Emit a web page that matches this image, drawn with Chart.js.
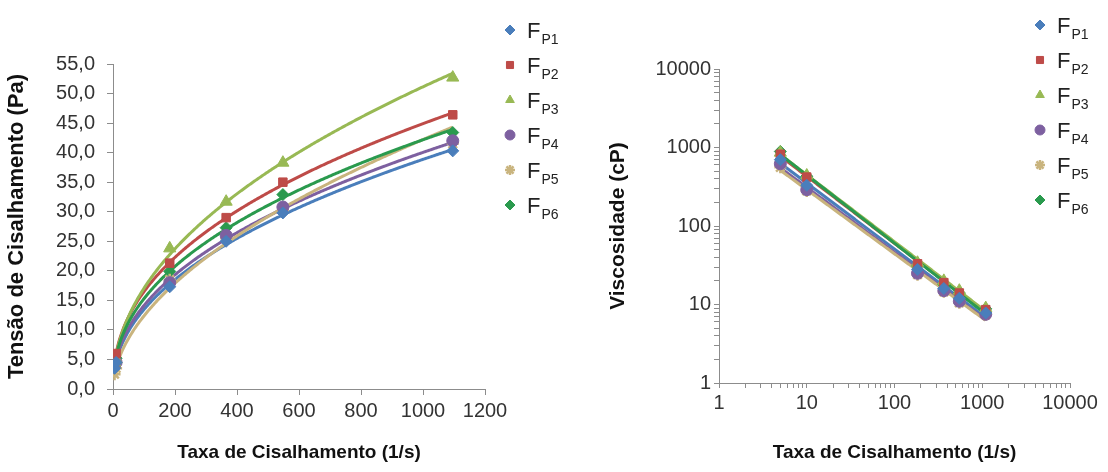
<!DOCTYPE html>
<html lang="pt">
<head>
<meta charset="utf-8">
<script src="https://cdn.jsdelivr.net/npm/chart.js@4.4.0/dist/chart.umd.min.js"></script>
<style>
  body { margin: 0; background: #fff; }
  #tensao { position: absolute; left: 0; top: 0; }
  #viscosidade { position: absolute; left: 590px; top: 0; }
</style>
</head>
<body>
<canvas id="tensao" width="590" height="472"></canvas>
<canvas id="viscosidade" width="518" height="472"></canvas>
<script>
// taxa de cisalhamento (1/s)
const shearRate = [5, 10, 183, 365, 548, 1096];
const seriesNames = ["P1", "P2", "P3", "P4", "P5", "P6"];

// tensão de cisalhamento (Pa)
const tensaoP1 = [3.5, 4.5, 17.3, 25.0, 29.8, 40.3];
const tensaoP2 = [4.5, 6.0, 21.3, 29.0, 35.0, 46.4];
const tensaoP3 = [4.5, 5.0, 23.8, 31.7, 38.3, 52.7];
const tensaoP4 = [4.0, 4.5, 18.0, 26.0, 30.8, 42.0];
const tensaoP5 = [2.5, 3.5, 18.5, 25.5, 30.3, 41.5];
const tensaoP6 = [4.3, 5.2, 19.9, 27.3, 32.9, 43.4];

// viscosidade (cP)
const viscP1 = [700, 330, 28, 16, 12, 7.8];
const viscP2 = [820, 420, 33, 19, 14, 8.6];
const viscP3 = [860, 440, 34, 20, 15, 9.0];
const viscP4 = [620, 290, 25, 15, 11, 7.5];
const viscP5 = [560, 280, 24, 14.5, 10.5, 7.4];
const viscP6 = [890, 430, 31, 18, 14, 8.8];

const tensaoTicks = [0, 5, 10, 15, 20, 25, 30, 35, 40, 45, 50, 55];
const rateTicks = [0, 200, 400, 600, 800, 1000, 1200];
const decades = [1, 10, 100, 1000, 10000];

const colors = ["#4A7EBB", "#BE4B48", "#98B954", "#7D60A0", "#C9B47E", "#2A9A4E"];
const markers = ["rectRot", "rect", "triangle", "circle", "star", "rectRot"];

const axisColor = "#8c8c8c";
const fontFamily = "'Liberation Sans', Arial, sans-serif";
const tickFont = { family: fontFamily, size: 20 };
const titleFont = (size) => ({ family: fontFamily, size, weight: "bold" });

function makeDatasets(values) {
  return values.map((vals, i) => ({
    label: seriesNames[i],
    data: shearRate.map((x, j) => ({ x, y: vals[j] })),
    showLine: false,
    borderColor: colors[i],
    backgroundColor: colors[i],
    pointStyle: markers[i],
    pointRadius: markers[i] === "triangle" ? 7 : 6,
    pointBorderWidth: markers[i] === "star" ? 2.5 : 1,
  }));
}

// linha de tendência de potência (y = a * x^b), ajustada por mínimos quadrados em log-log
function powerFit(points) {
  const n = points.length;
  let sx = 0, sy = 0, sxx = 0, sxy = 0;
  points.forEach((p) => {
    const lx = Math.log(p.x), ly = Math.log(p.y);
    sx += lx; sy += ly; sxx += lx * lx; sxy += lx * ly;
  });
  const b = (n * sxy - sx * sy) / (n * sxx - sx * sx);
  const a = Math.exp((sy - b * sx) / n);
  return { a, b };
}

const trendlines = {
  id: "trendlines",
  beforeDatasetsDraw(chart) {
    const ctx = chart.ctx;
    const xs = chart.scales.x, ys = chart.scales.y;
    ctx.save();
    ctx.beginPath();
    ctx.rect(chart.chartArea.left, chart.chartArea.top, chart.chartArea.width, chart.chartArea.height);
    ctx.clip();
    chart.data.datasets.forEach((ds) => {
      const { a, b } = powerFit(ds.data);
      const x0 = xs.getPixelForValue(Math.min(...ds.data.map((p) => p.x)));
      const x1 = xs.getPixelForValue(Math.max(...ds.data.map((p) => p.x)));
      ctx.beginPath();
      for (let px = x0; px <= x1 + 0.01; px += 1) {
        const v = xs.getValueForPixel(Math.min(px, x1));
        const py = ys.getPixelForValue(a * Math.pow(v, b));
        if (px === x0) ctx.moveTo(px, py); else ctx.lineTo(px, py);
      }
      ctx.strokeStyle = ds.borderColor;
      ctx.lineWidth = 3;
      ctx.lineJoin = "round";
      ctx.stroke();
    });
    ctx.restore();
  },
};

// legenda com subscrito (F_P1 ...)
function subscriptLegend(x0, y0, gap) {
  return {
    id: "subscriptLegend",
    afterDraw(chart) {
      const ctx = chart.ctx;
      chart.data.datasets.forEach((ds, i) => {
        const y = y0 + i * gap;
        ctx.save();
        ctx.fillStyle = ds.backgroundColor;
        ctx.strokeStyle = ds.borderColor;
        const bw = ds.pointStyle === "star" ? 2.5 : 1;
        ctx.lineWidth = bw;
        Chart.helpers.drawPoint(ctx, { pointStyle: ds.pointStyle, radius: 5, rotation: 0, borderWidth: bw }, x0, y);
        ctx.fillStyle = "#222";
        ctx.textAlign = "left";
        ctx.textBaseline = "alphabetic";
        ctx.font = "22px " + fontFamily;
        ctx.fillText("F", x0 + 17, y + 8);
        const w = ctx.measureText("F").width;
        ctx.font = "14px " + fontFamily;
        ctx.fillText(ds.label, x0 + 18 + w, y + 14);
        ctx.restore();
      });
    },
  };
}

const plainGrid = { drawOnChartArea: false, drawTicks: true, tickLength: 6, color: axisColor };

new Chart(document.getElementById("tensao"), {
  type: "scatter",
  data: { datasets: makeDatasets([tensaoP1, tensaoP2, tensaoP3, tensaoP4, tensaoP5, tensaoP6]) },
  options: {
    responsive: false,
    animation: false,
    layout: { padding: { top: 64, right: 105, left: 0, bottom: 0 } },
    plugins: { legend: { display: false }, tooltip: { enabled: false } },
    scales: {
      x: {
        type: "linear",
        min: 0,
        max: 1200,
        afterBuildTicks: (s) => { s.ticks = rateTicks.map((v) => ({ value: v })); },
        afterFit: (s) => { s.height = 83; },
        ticks: { color: "#333", font: tickFont, padding: 4, maxRotation: 0, callback: (v) => String(v) },
        grid: plainGrid,
        border: { color: axisColor },
        title: { display: true, text: "Taxa de Cisalhamento (1/s)", color: "#111", font: titleFont(19), padding: { top: 0, bottom: 8 } },
      },
      y: {
        min: 0,
        max: 55,
        afterBuildTicks: (s) => { s.ticks = tensaoTicks.map((v) => ({ value: v })); },
        afterFit: (s) => { s.width = 113; },
        ticks: { color: "#333", font: tickFont, padding: 12, callback: (v) => v.toFixed(1).replace(".", ",") },
        grid: plainGrid,
        border: { color: axisColor },
        title: { display: true, text: "Tensão de Cisalhamento (Pa)", color: "#111", font: titleFont(22), padding: { top: 4, bottom: 0 } },
      },
    },
  },
  plugins: [trendlines, subscriptLegend(510, 30, 35)],
});

const logTicks = [];
decades.slice(0, -1).forEach((d) => { for (let m = 1; m < 10; m++) logTicks.push(m * d); });
logTicks.push(10000);

const logAxis = (extra) => Object.assign({
  type: "logarithmic",
  min: 1,
  max: 10000,
  afterBuildTicks: (s) => { s.ticks = logTicks.map((v) => ({ value: v, major: decades.includes(v) })); },
  ticks: { color: "#333", font: tickFont, autoSkip: false, maxRotation: 0, callback: (v) => (decades.includes(v) ? String(v) : "") },
  grid: { drawOnChartArea: false, drawTicks: true, tickLength: 5, color: axisColor },
  border: { color: axisColor },
}, extra);

new Chart(document.getElementById("viscosidade"), {
  type: "scatter",
  data: { datasets: makeDatasets([viscP1, viscP2, viscP3, viscP4, viscP5, viscP6]) },
  options: {
    responsive: false,
    animation: false,
    layout: { padding: { top: 69, right: 38, left: 0, bottom: 0 } },
    plugins: { legend: { display: false }, tooltip: { enabled: false } },
    scales: {
      x: logAxis({
        afterFit: (s) => { s.height = 89; },
        title: { display: true, text: "Taxa de Cisalhamento (1/s)", color: "#111", font: titleFont(19), padding: { top: 0, bottom: 8 } },
      }),
      y: logAxis({
        afterFit: (s) => { s.width = 129; },
        title: { display: true, text: "Viscosidade (cP)", color: "#111", font: titleFont(21), padding: { top: 16, bottom: 0 } },
      }),
    },
  },
  plugins: [trendlines, subscriptLegend(450, 25, 35)],
});
</script>
</body>
</html>
